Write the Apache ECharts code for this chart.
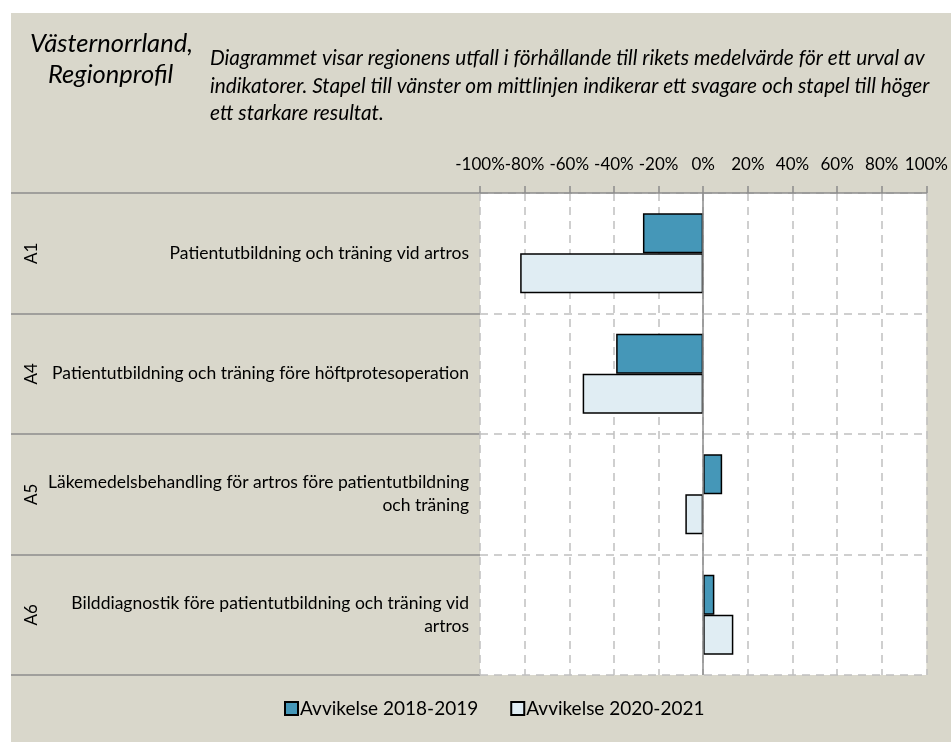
<!DOCTYPE html>
<html>
<head>
<meta charset="utf-8">
<style>
  html, body { margin: 0; padding: 0; background: #ffffff; }
  #chart { width: 951px; height: 742px; }
</style>
<script src="https://cdn.jsdelivr.net/npm/echarts@6/dist/echarts.min.js"></script>
</head>
<body>
<div id="chart"></div>
<script>
// Indicator codes and names
const codes = ['A1', 'A4', 'A5', 'A6'];
const indicators = [
  'Patientutbildning och träning vid artros',
  'Patientutbildning och träning före höftprotesoperation',
  'Läkemedelsbehandling för artros före patientutbildning\noch träning',
  'Bilddiagnostik före patientutbildning och träning vid\nartros'
];
// Deviation from national mean (fraction)
const dev2018_2019 = [-0.27, -0.39, 0.085, 0.05];
const dev2020_2021 = [-0.82, -0.54, -0.08, 0.135];
const seriesNames = ['Avvikelse 2018-2019', 'Avvikelse 2020-2021'];
const tickLabels = ['-100%', '-80%', '-60%', '-40%', '-20%', '0%', '20%', '40%', '60%', '80%', '100%'];

const FONT = 'Lato';
const GRAY = '#8c8c8c';
const chart = echarts.init(document.getElementById('chart'), null, { renderer: 'canvas' });

chart.setOption({
  animation: false,
  backgroundColor: '#ffffff',
  graphic: [
    { type: 'rect', z: -10, shape: { x: 11, y: 13, width: 940, height: 729 }, style: { fill: '#d9d7cb' } },
    { type: 'text', left: 30, top: 31, style: { text: 'Västernorrland,', font: 'italic 25.5px ' + FONT, fill: '#000' } },
    { type: 'text', left: 48, top: 62, style: { text: 'Regionprofil', font: 'italic 25.5px ' + FONT, fill: '#000' } },
    { type: 'text', left: 210, top: 45, style: {
        text: 'Diagrammet visar regionens utfall i förhållande till rikets medelvärde för ett urval av\nindikatorer. Stapel till vänster om mittlinjen indikerar ett svagare och stapel till höger\nett starkare resultat.',
        font: 'italic 20.8px ' + FONT, lineHeight: 27.5, fill: '#000' } }
  ],
  legend: {
    bottom: 19,
    left: 279,
    itemWidth: 13,
    itemHeight: 13,
    itemGap: 32,
    icon: 'rect',
    textStyle: { fontFamily: FONT, fontSize: 19, color: '#000', padding: [0, 0, 0, -3] },
    data: seriesNames
  },
  grid: [
    { left: 480, right: 23, top: 193, bottom: 67, show: true, backgroundColor: '#ffffff', borderWidth: 0 },
    // Category band on the left holding the labels
    { left: 11, width: 469, top: 193, bottom: 67, show: false }
  ],
  xAxis: [
    {
      type: 'value',
      gridIndex: 0,
      position: 'top',
      min: -1, max: 1, interval: 0.2,
      axisLine: { show: true, lineStyle: { color: GRAY, width: 1.5 } },
      axisTick: { show: true, length: 7, lineStyle: { color: GRAY, width: 1.5 } },
      axisLabel: {
        margin: 20,
        showMinLabel: true, showMaxLabel: true, hideOverlap: false,
        fontFamily: FONT, fontSize: 17, color: '#000',
        formatter: function (v) { return tickLabels[Math.round((v + 1) / 0.2)]; }
      },
      splitLine: { show: true, lineStyle: { color: '#c0c0c0', type: [8, 6], width: 1.5 } }
    },
    { type: 'value', gridIndex: 1, show: false, min: 0, max: 1 }
  ],
  yAxis: [
    {
      type: 'category',
      gridIndex: 0,
      inverse: true,
      data: indicators,
      axisLine: { show: false },
      axisTick: { show: false },
      axisLabel: {
        margin: 11, fontFamily: FONT, fontSize: 17.5, color: '#000',
        align: 'right', lineHeight: 23
      },
      splitLine: { show: true, lineStyle: { color: '#c0c0c0', type: [8, 6], width: 1.5 } }
    },
    {
      type: 'category',
      gridIndex: 0,
      inverse: true,
      position: 'left',
      offset: 440,
      data: codes,
      axisLine: { show: false },
      axisTick: { show: false },
      splitLine: { show: false },
      axisLabel: { margin: 0, rotate: 90, fontFamily: FONT, fontSize: 17, color: '#000' }
    },
    {
      type: 'category',
      gridIndex: 1,
      inverse: true,
      data: codes,
      axisLine: { show: false },
      axisTick: { show: false },
      axisLabel: { show: false },
      splitLine: { show: true, lineStyle: { color: GRAY, width: 1.5 } }
    }
  ],
  series: [
    {
      name: seriesNames[0],
      type: 'bar',
      xAxisIndex: 0,
      yAxisIndex: 0,
      data: dev2018_2019,
      barWidth: 40,
      barGap: '0%',
      itemStyle: { color: '#4597b8', borderColor: '#000', borderWidth: 1.5 },
      markLine: {
        silent: true, symbol: 'none', label: { show: false },
        lineStyle: { color: GRAY, type: 'solid', width: 1.5 },
        data: [{ xAxis: 0 }]
      }
    },
    {
      name: seriesNames[1],
      type: 'bar',
      xAxisIndex: 0,
      yAxisIndex: 0,
      data: dev2020_2021,
      barWidth: 40,
      barGap: '0%',
      itemStyle: { color: '#e0edf3', borderColor: '#000', borderWidth: 1.5 }
    }
  ]
});
</script>
</body>
</html>
